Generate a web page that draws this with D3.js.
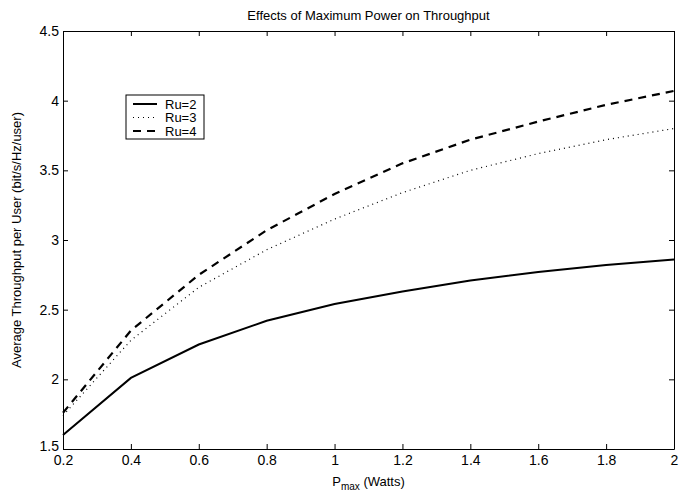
<!DOCTYPE html>
<meta charset="utf-8">
<style>
body { margin: 0; background: #fff; }
text { font-family: "Liberation Sans", Arial, sans-serif; fill: #000; }
.axis path, .axis line { stroke: #000; }
</style>
<svg width="690" height="492"></svg>
<script src="https://d3js.org/d3.v7.min.js"></script>
<script>

var pmax = [0.2, 0.4, 0.6, 0.8, 1.0, 1.2, 1.4, 1.6, 1.8, 2.0];
var ru2 = [1.60, 2.01, 2.25, 2.42, 2.54, 2.63, 2.71, 2.77, 2.82, 2.86];
var ru3 = [1.74, 2.28, 2.66, 2.93, 3.15, 3.34, 3.50, 3.62, 3.72, 3.80];
var ru4 = [1.76, 2.35, 2.75, 3.07, 3.33, 3.55, 3.72, 3.85, 3.97, 4.07];
var seriesNames = ["Ru=2", "Ru=3", "Ru=4"];
var xTicks = [0.2, 0.4, 0.6, 0.8, 1, 1.2, 1.4, 1.6, 1.8, 2];
var yTicks = [1.5, 2, 2.5, 3, 3.5, 4, 4.5];

var svg = d3.select("svg");
var pLeft = 63, pRight = 674, pTop = 31, pBottom = 449;

var x = d3.scaleLinear().domain([0.2, 2]).range([pLeft, pRight]);
var y = d3.scaleLinear().domain([1.5, 4.5]).range([pBottom, pTop]);

var fmt = function(d) { return String(d); };

// axes, ticks pointing inward like matlab
svg.append("g").attr("class", "axis")
    .attr("transform", "translate(0," + pBottom + ")")
    .call(d3.axisBottom(x).tickValues(xTicks).tickFormat(fmt).tickSize(-5).tickPadding(6).tickSizeOuter(0));
svg.append("g").attr("class", "axis")
    .attr("transform", "translate(0," + pTop + ")")
    .call(d3.axisTop(x).tickValues(xTicks).tickFormat("").tickSize(-5).tickSizeOuter(0));
svg.append("g").attr("class", "axis")
    .attr("transform", "translate(" + pLeft + ",0)")
    .call(d3.axisLeft(y).tickValues(yTicks).tickFormat(fmt).tickSize(-5).tickPadding(4).tickSizeOuter(0));
svg.append("g").attr("class", "axis")
    .attr("transform", "translate(" + pRight + ",0)")
    .call(d3.axisRight(y).tickValues(yTicks).tickFormat("").tickSize(-5).tickSizeOuter(0));

svg.selectAll(".axis text").style("font-size", "14px");
// lift the lowest y label a touch so it clears the first x label
svg.selectAll(".axis text").filter(function(d) { return d === 1.5; }).attr("dy", "0.1em");

var styles = [
  { dash: null, width: 2 },
  { dash: "1,4", width: 1.2 },
  { dash: "8,6", width: 2.2 }
];

var line = d3.line()
    .x(function(d, i) { return x(pmax[i]); })
    .y(function(d) { return y(d); });

[ru2, ru3, ru4].forEach(function(s, i) {
  svg.append("path")
      .attr("d", line(s))
      .attr("fill", "none")
      .attr("stroke", "#000")
      .attr("stroke-width", styles[i].width)
      .attr("stroke-dasharray", styles[i].dash);
});

// legend
var lg = svg.append("g").attr("transform", "translate(126,95)");
lg.append("rect")
    .attr("width", 78).attr("height", 44)
    .attr("fill", "#fff").attr("stroke", "#000").attr("stroke-width", 1);
seriesNames.forEach(function(n, i) {
  var yy = 9 + i * 13.5;
  lg.append("line")
      .attr("x1", 7).attr("x2", 31).attr("y1", yy).attr("y2", yy)
      .attr("stroke", "#000")
      .attr("stroke-width", styles[i].width)
      .attr("stroke-dasharray", styles[i].dash);
  lg.append("text")
      .attr("x", 39).attr("y", yy + 4.5)
      .style("font-size", "13px")
      .text(n);
});

svg.append("text")
    .attr("x", (pLeft + pRight) / 2).attr("y", 20)
    .attr("text-anchor", "middle")
    .style("font-size", "13px")
    .text("Effects of Maximum Power on Throughput");

var xl = svg.append("text")
    .attr("x", (pLeft + pRight) / 2).attr("y", 486)
    .attr("text-anchor", "middle")
    .style("font-size", "13px");
xl.append("tspan").text("P");
xl.append("tspan").attr("dy", 4).style("font-size", "10px").text("max");
xl.append("tspan").attr("dy", -4).text(" (Watts)");

svg.append("text")
    .attr("transform", "translate(21," + ((pTop + pBottom) / 2) + ") rotate(-90)")
    .attr("text-anchor", "middle")
    .style("font-size", "13px")
    .text("Average Throughput per User (bit/s/Hz/user)");

</script>
